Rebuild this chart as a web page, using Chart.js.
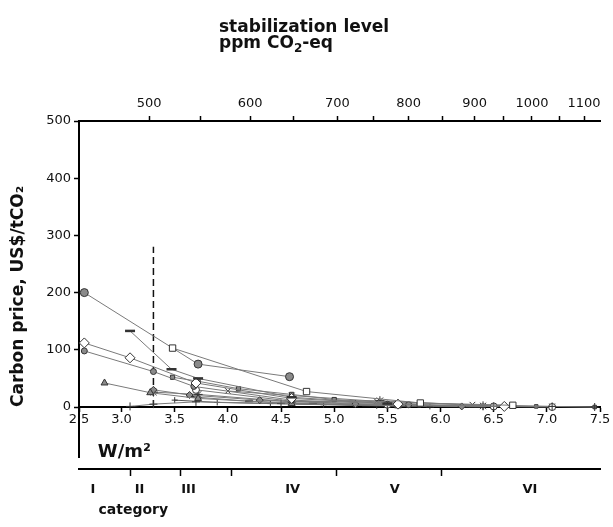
<!DOCTYPE html>
<html>
<head>
<meta charset="utf-8">
<script src="https://cdn.jsdelivr.net/npm/chart.js@4.4.1/dist/chart.umd.min.js"></script>
<style>
    body { margin: 0; background: #fff; }
    #wrap { position: relative; width: 613px; height: 527px; }
    #heading {
        position: absolute; left: 219px; top: 18px;
        font: bold 17px "DejaVu Sans", sans-serif; line-height: 16px; color: #111;
    }
    #heading sub { font-size: 12px; line-height: 0; }
</style>
</head>
<body>
<div id="wrap">
    <canvas id="carbonPriceChart"></canvas>
    <div id="heading">stabilization level<br>ppm CO<sub>2</sub>-eq</div>
</div>
<script>
// axis values (W/m2 on the bottom axis, ppm marks placed where they sit on it)
const forcingMin = 2.6;
const forcingMax = 7.5;
const forcingTicks = [2.6, 3.0, 3.5, 4.0, 4.5, 5.0, 5.5, 6.0, 6.5, 7.0, 7.5];
const forcingLabels = ['2.5', '3.0', '3.5', '4.0', '4.5', '5.0', '5.5', '6.0', '6.5', '7.0', '7.5'];
const priceTicks = [0, 100, 200, 300, 400, 500];
const ppmLabels = ['500', '600', '700', '800', '900', '1000', '1100'];
const ppmPos = [3.26, 4.21, 5.03, 5.70, 6.32, 6.86, 7.35];
const ppmMinorPos = [3.74, 4.62, 5.37, 6.02, 6.59, 7.12];
const categoryLabels = ['I', 'II', 'III', 'IV', 'V', 'VI'];
const categoryLabelPos = [2.73, 3.17, 3.63, 4.61, 5.57, 6.84];
const categoryBounds = [3.08, 3.55, 4.03, 5.02, 6.01];

// vertical dashed marker
const guideX = 3.3;
const guideTop = 280;

// model runs: carbon price (US$/tCO2) against forcing (W/m2)
const squareX = [3.48, 4.74, 5.81, 6.68];
const squareY = [103, 27, 7, 3];
const discX = [2.65, 3.72, 4.58];
const discY = [200, 75, 53];
const dashX = [3.08, 3.47, 3.72, 4.6, 5.5];
const dashY = [133, 66, 50, 17, 6];
const diamondX = [2.65, 3.08, 3.7, 4.6, 5.6, 6.6];
const diamondY = [112, 86, 42, 15, 5, 1];
const dotX = [2.65, 3.3, 3.68, 4.6, 5.7, 6.6];
const dotY = [98, 62, 36, 12, 4, 1];
const triangleX = [2.84, 3.27, 3.72, 4.6, 5.6];
const triangleY = [42, 25, 15, 6, 2];
const solidDiamondX = [3.3, 3.64, 4.3, 5.2, 6.2];
const solidDiamondY = [30, 21, 12, 5, 1];
const crossX = [3.08, 3.3, 3.7, 4.5, 5.5, 6.5, 7.05, 7.45];
const crossY = [1, 5, 9, 6, 3, 1, 1, 0];
const boxX = [3.48, 3.72, 4.1, 4.6, 5.0, 5.8];
const boxY = [52, 45, 32, 22, 13, 5];
const ringX = [3.7, 4.6, 5.5, 6.5, 7.05];
const ringY = [30, 10, 4, 1, 0];
const xMarkX = [4.0, 4.6, 5.4, 6.3, 7.05];
const xMarkY = [28, 20, 10, 4, 1];
const starX = [3.3, 3.72, 4.6, 5.43, 6.4];
const starY = [26, 22, 9, 11, 2];
const plusX = [3.5, 3.9, 4.4, 4.9, 5.4, 5.9, 6.4];
const plusY = [12, 8, 6, 4, 2, 1, 0];
const barX = [3.65, 4.2, 4.8, 5.3, 5.9];
const barY = [18, 10, 6, 3, 1];
const tailX = [4.6, 5.2, 5.8, 6.4, 6.9, 7.45];
const tailY = [6, 4, 3, 2, 1, 0];

const tickFont = { family: 'DejaVu Sans', size: 13 };
const titleFont = { family: 'DejaVu Sans', size: 17, weight: 'bold' };

function toPoints(xs, ys) {
    return xs.map((x, i) => ({ x: x, y: ys[i] }));
}

function run(xs, ys, style) {
    return Object.assign({
        showLine: true,
        data: toPoints(xs, ys),
        borderColor: '#7a7a7a',
        borderWidth: 1,
        pointRadius: 3.5,
        pointBorderColor: '#333',
        pointBackgroundColor: '#8a8a8a',
        pointBorderWidth: 1,
        clip: false
    }, style);
}

const datasets = [
    run(squareX, squareY, { pointStyle: 'rect', pointRadius: 4.5, pointBackgroundColor: '#fff' }),
    run(discX, discY, { pointStyle: 'circle', pointRadius: 4 }),
    run(dashX, dashY, { pointStyle: 'line', pointRadius: 5, pointBorderWidth: 2.5 }),
    run(diamondX, diamondY, { pointStyle: 'rectRot', pointRadius: 5, pointBackgroundColor: '#fff' }),
    run(dotX, dotY, { pointStyle: 'circle', pointRadius: 3 }),
    run(triangleX, triangleY, { pointStyle: 'triangle', pointRadius: 4 }),
    run(solidDiamondX, solidDiamondY, { pointStyle: 'rectRot', pointRadius: 3.5 }),
    run(crossX, crossY, { pointStyle: 'cross', pointRadius: 4 }),
    run(boxX, boxY, { pointStyle: 'rect', pointRadius: 3 }),
    run(ringX, ringY, { pointStyle: 'circle', pointRadius: 3.5, pointBackgroundColor: '#fff' }),
    run(xMarkX, xMarkY, { pointStyle: 'crossRot', pointRadius: 4 }),
    run(starX, starY, { pointStyle: 'star', pointRadius: 4.5 }),
    run(plusX, plusY, { pointStyle: 'cross', pointRadius: 3, borderColor: '#555' }),
    run(barX, barY, { pointStyle: 'line', pointRadius: 4, pointBorderWidth: 2 }),
    run(tailX, tailY, { pointStyle: 'rect', pointRadius: 2.5, borderColor: '#444' }),
    {
        showLine: true,
        data: [{ x: guideX, y: 0 }, { x: guideX, y: guideTop }],
        borderColor: '#111',
        borderWidth: 1.5,
        borderDash: [7, 4],
        pointRadius: 0
    }
];

// the left axis line runs on below the W/m2 axis in the original
const axisTail = {
    id: 'axisTail',
    afterDraw(chart) {
        const { ctx, chartArea } = chart;
        ctx.save();
        ctx.strokeStyle = '#000';
        ctx.lineWidth = 2;
        ctx.beginPath();
        ctx.moveTo(chartArea.left, chartArea.bottom);
        ctx.lineTo(chartArea.left, chartArea.bottom + 51);
        ctx.stroke();
        ctx.restore();
    }
};

new Chart(document.getElementById('carbonPriceChart').getContext('2d'), {
    type: 'scatter',
    data: { datasets: datasets },
    plugins: [axisTail],
    options: {
        responsive: true,
        maintainAspectRatio: false,
        animation: false,
        layout: { padding: { left: 0, right: 13, top: 0, bottom: 0 } },
        plugins: {
            legend: { display: false },
            tooltip: { enabled: false }
        },
        scales: {
            x: {
                type: 'linear',
                position: 'bottom',
                weight: 0,
                min: forcingMin,
                max: forcingMax,
                afterBuildTicks: scale => { scale.ticks = forcingTicks.map(v => ({ value: v })); },
                afterFit: scale => { scale.height = 62; },
                ticks: {
                    autoSkip: false,
                    maxRotation: 0,
                    padding: 0,
                    color: '#111',
                    font: tickFont,
                    callback: v => forcingLabels[forcingTicks.indexOf(v)]
                },
                grid: { drawOnChartArea: false, tickLength: 5, color: '#000', tickWidth: 1.5 },
                border: { color: '#000', width: 2 },
                title: {
                    display: true,
                    align: 'start',
                    text: '\u00a0\u00a0\u00a0W/m\u00b2',
                    color: '#111',
                    font: { family: 'DejaVu Sans', size: 18, weight: 'bold' },
                    padding: { top: 0, bottom: 6 }
                }
            },
            category: {
                type: 'linear',
                position: 'bottom',
                weight: 1,
                min: forcingMin,
                max: forcingMax,
                afterBuildTicks: scale => {
                    scale.ticks = categoryBounds.concat(categoryLabelPos)
                        .sort((a, b) => a - b)
                        .map(v => ({ value: v }));
                },
                afterFit: scale => { scale.height = 58; },
                ticks: {
                    autoSkip: false,
                    maxRotation: 0,
                    padding: 6,
                    color: '#111',
                    font: { family: 'DejaVu Sans', size: 13, weight: 'bold' },
                    callback: v => {
                        const i = categoryLabelPos.indexOf(v);
                        return i >= 0 ? categoryLabels[i] : '';
                    }
                },
                grid: {
                    drawOnChartArea: false,
                    tickLength: 7,
                    tickWidth: 1.5,
                    color: '#000',
                    tickColor: c => (c.tick && categoryBounds.includes(c.tick.value)) ? '#000' : 'rgba(0,0,0,0)'
                },
                border: { color: '#000', width: 2 },
                title: {
                    display: true,
                    align: 'start',
                    text: '\u00a0\u00a0\u00a0\u00a0category',
                    color: '#111',
                    font: { family: 'DejaVu Sans', size: 14, weight: 'bold' },
                    padding: { top: 0, bottom: 8 }
                }
            },
            ppm: {
                type: 'linear',
                position: 'top',
                min: forcingMin,
                max: forcingMax,
                afterBuildTicks: scale => {
                    scale.ticks = ppmPos.concat(ppmMinorPos)
                        .sort((a, b) => a - b)
                        .map(v => ({ value: v }));
                },
                afterFit: scale => { scale.height = 121; },
                ticks: {
                    autoSkip: false,
                    maxRotation: 0,
                    padding: 5,
                    color: '#111',
                    font: tickFont,
                    callback: v => {
                        const i = ppmPos.indexOf(v);
                        return i >= 0 ? ppmLabels[i] : '';
                    }
                },
                grid: { drawOnChartArea: false, tickLength: 5, tickWidth: 1.5, color: '#000' },
                border: { color: '#000', width: 2 }
            },
            y: {
                type: 'linear',
                min: 0,
                max: 500,
                afterBuildTicks: scale => { scale.ticks = priceTicks.map(v => ({ value: v })); },
                afterFit: scale => { scale.width = 79; },
                ticks: { padding: 3, color: '#111', font: tickFont },
                grid: { drawOnChartArea: false, tickLength: 5, tickWidth: 1.5, color: '#000' },
                border: { color: '#000', width: 2 },
                title: {
                    display: true,
                    align: 'start',
                    text: 'Carbon price, US$/tCO\u2082',
                    color: '#111',
                    font: titleFont,
                    padding: { top: 8, bottom: 0 }
                }
            }
        }
    }
});
</script>
</body>
</html>
